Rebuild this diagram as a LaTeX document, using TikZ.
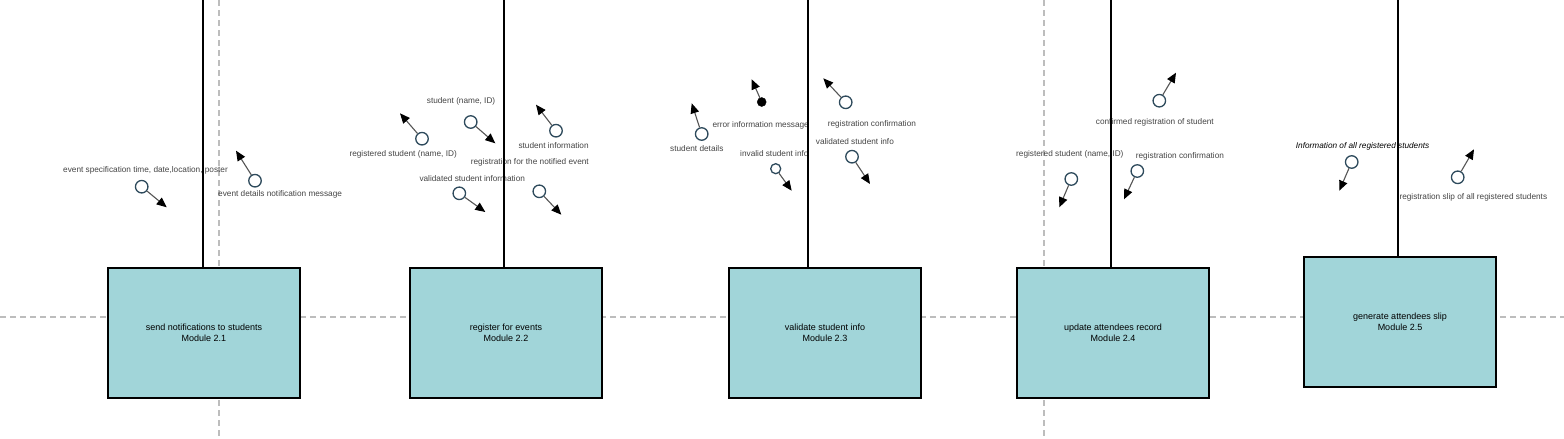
\documentclass[tikz,border=0pt]{standalone}
\usepackage{fontspec}
\setmainfont{Liberation Sans}
\usetikzlibrary{arrows.meta}
\definecolor{boxfill}{HTML}{A1D5D9}
\definecolor{circc}{HTML}{2E4A5C}
\definecolor{lblc}{HTML}{454545}
\definecolor{dashc}{HTML}{BDBDBD}
\definecolor{arrc}{HTML}{555555}
\begin{document}
\begin{tikzpicture}[x=1pt,y=-1pt,
  module/.style={draw=black,line width=2pt,fill=boxfill,minimum width=192pt,minimum height=130pt,inner sep=0pt,font=\fontsize{9}{11.5}\selectfont,align=center,anchor=north west,text=black},
  lbl/.style={inner sep=0pt,anchor=west,text=lblc,font=\fontsize{8.25}{10}\selectfont},
  flowc/.style={circle,draw=circc,line width=1.3pt,fill=white,minimum size=12.5pt,inner sep=0pt},
  flowsmall/.style={flowc,minimum size=10pt},
  flowfilled/.style={circle,draw=black,fill=black,minimum size=9pt,inner sep=0pt},
  flowarrow/.style={draw=arrc,line width=1.1pt,-{Triangle[length=10pt,width=8.5pt,color=black]}},
  guide/.style={draw=dashc,line width=1.3pt,dash pattern=on 6pt off 4pt},
  stem/.style={draw=black,line width=2pt}
]
\useasboundingbox (0,0) rectangle (1564,439);
\fill[white] (0,0) rectangle (1564,439);

% guides
\coordinate (hl) at (0,317);
\coordinate (hr) at (1564,317);
\draw[guide] (hl) -- (hr);
\coordinate (v1t) at (219,0);
\coordinate (v1b) at (219,439);
\draw[guide] (v1t) -- (v1b);
\coordinate (v2t) at (1044,0);
\coordinate (v2b) at (1044,439);
\draw[guide] (v2t) -- (v2b);

% labels module 1
\node[lbl] (l11) at (63,170.7) {event specification time, date,location, poster};
\node[lbl] (l12) at (218,194.3) {event details notification message};
% module 2
\node[lbl] (l21) at (426.7,101.7) {student (name, ID)};
\node[lbl] (l22) at (349.3,154) {registered student (name, ID)};
\node[lbl] (l23) at (518.3,146) {student information};
\node[lbl] (l24) at (470.7,162) {registration for the notified event};
\node[lbl] (l25) at (419.3,179) {validated student information};
% module 3
\node[lbl] (l31) at (670,148.3) {student details};
\node[lbl] (l32) at (712.3,125) {error information message};
\node[lbl] (l33) at (740,154) {invalid student info};
\node[lbl] (l34) at (827.7,124) {registration confirmation};
\node[lbl] (l35) at (815.7,142) {validated student info};
% module 4
\node[lbl] (l41) at (1095.7,122) {confirmed registration of student};
\node[lbl] (l42) at (1016,154.7) {registered student (name, ID)};
\node[lbl] (l43) at (1135.7,156.7) {registration confirmation};
% module 5
\node[lbl,text=black,font=\fontsize{8.25}{10}\selectfont\itshape] (l51) at (1295.7,146) {Information of all registered students};
\node[lbl] (l52) at (1399.3,197.7) {registration slip of all registered students};

% flows
\node[flowc] (c11) at (141.7,186.7) {};
\coordinate (t11) at (166.7,207.3);
\draw[flowarrow] (c11) -- (t11);
\node[flowc] (c12) at (255,180.7) {};
\coordinate (t12) at (236,150.7);
\draw[flowarrow] (c12) -- (t12);

\node[flowc] (c21) at (470.7,122) {};
\coordinate (t21) at (495.3,143.3);
\draw[flowarrow] (c21) -- (t21);
\node[flowc] (c22) at (422,138.7) {};
\coordinate (t22) at (400,113.3);
\draw[flowarrow] (c22) -- (t22);
\node[flowc] (c23) at (556,130.7) {};
\coordinate (t23) at (536,104.7);
\draw[flowarrow] (c23) -- (t23);
\node[flowc] (c24) at (459.3,193.3) {};
\coordinate (t24) at (485.3,212);
\draw[flowarrow] (c24) -- (t24);
\node[flowc] (c25) at (539.3,191.3) {};
\coordinate (t25) at (561.3,214.7);
\draw[flowarrow] (c25) -- (t25);

\node[flowfilled] (c31) at (761.7,102) {};
\coordinate (t31) at (751.7,79.3);
\draw[flowarrow] (c31) -- (t31);
\node[flowc] (c32) at (701.7,134) {};
\coordinate (t32) at (691.7,103.3);
\draw[flowarrow] (c32) -- (t32);
\node[flowsmall] (c33) at (775.7,168.7) {};
\coordinate (t33) at (791.7,190.7);
\draw[flowarrow] (c33) -- (t33);
\node[flowc] (c34) at (845.7,102.3) {};
\coordinate (t34) at (823.3,78.3);
\draw[flowarrow] (c34) -- (t34);
\node[flowc] (c35) at (852,156.7) {};
\coordinate (t35) at (870,184);
\draw[flowarrow] (c35) -- (t35);

\node[flowc] (c41) at (1159.3,100.7) {};
\coordinate (t41) at (1176,72.7);
\draw[flowarrow] (c41) -- (t41);
\node[flowc] (c42) at (1071.3,179) {};
\coordinate (t42) at (1059.3,207.3);
\draw[flowarrow] (c42) -- (t42);
\node[flowc] (c43) at (1137.3,171) {};
\coordinate (t43) at (1124,199.3);
\draw[flowarrow] (c43) -- (t43);

\node[flowc] (c51) at (1351.7,162) {};
\coordinate (t51) at (1339.3,190.7);
\draw[flowarrow] (c51) -- (t51);
\node[flowc] (c52) at (1457.7,177.3) {};
\coordinate (t52) at (1474,149.3);
\draw[flowarrow] (c52) -- (t52);

% stems
\coordinate (s1) at (203,0);
\coordinate (s2) at (504,0);
\coordinate (s3) at (808,0);
\coordinate (s4) at (1111,0);
\coordinate (s5) at (1398,0);

% modules
\node[module] (b1) at (107,267) {send notifications to students\\Module 2.1};
\node[module] (b2) at (409,267) {register for events\\Module 2.2};
\node[module] (b3) at (728,267) {validate student info\\Module 2.3};
\node[module] (b4) at (1016,267) {update attendees record\\Module 2.4};
\node[module] (b5) at (1303,256) {generate attendees slip\\Module 2.5};

\draw[stem] (s1) -- (s1 |- b1.north);
\draw[stem] (s2) -- (s2 |- b2.north);
\draw[stem] (s3) -- (s3 |- b3.north);
\draw[stem] (s4) -- (s4 |- b4.north);
\draw[stem] (s5) -- (s5 |- b5.north);
\end{tikzpicture}
\end{document}
